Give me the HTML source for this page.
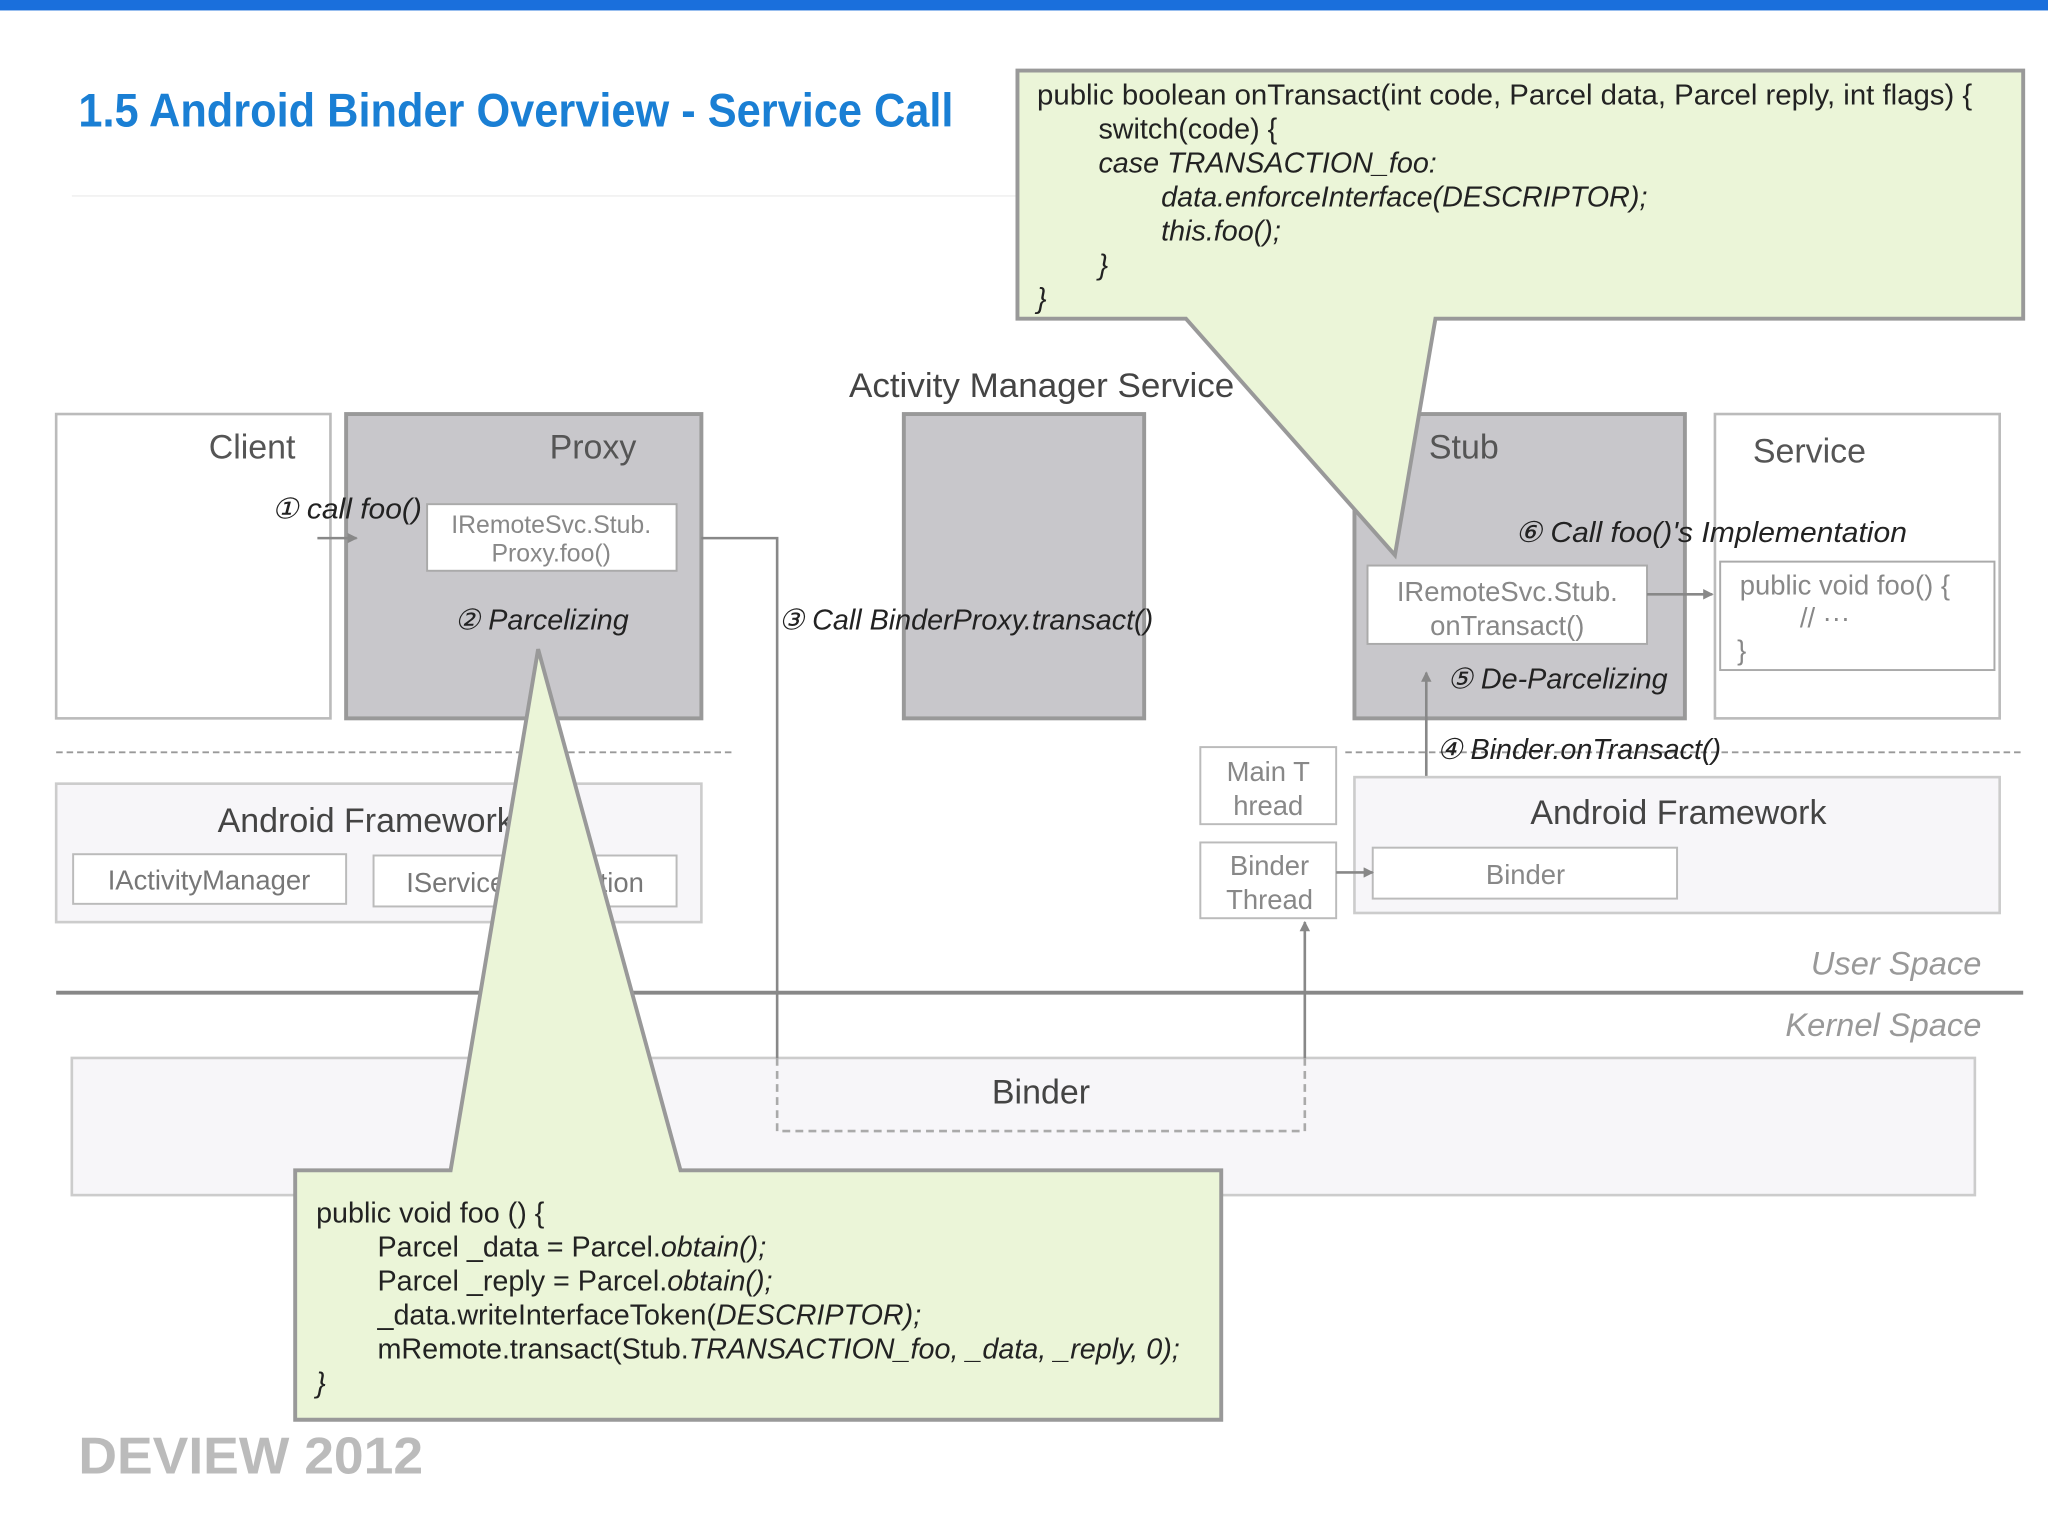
<!DOCTYPE html>
<html><head><meta charset="utf-8"><style>
html,body{margin:0;padding:0;background:#fff;width:2048px;height:1536px;overflow:hidden}
svg{display:block}
text{font-family:"Liberation Sans",sans-serif}
</style></head><body>
<svg width="2048" height="1536" viewBox="0 0 1568 1176" xmlns="http://www.w3.org/2000/svg">
<defs><marker id="a" markerWidth="8" markerHeight="8" refX="7" refY="4" orient="auto" markerUnits="userSpaceOnUse"><path d="M0,0L8,4L0,8z" fill="#888"/></marker></defs>
<rect x="0" y="0" width="1568" height="8" fill="#1a6fdc"/>
<text x="60" y="97" font-size="36" font-weight="bold" fill="#1a7fd4" textLength="670" lengthAdjust="spacingAndGlyphs">1.5  Android Binder Overview - Service Call</text>
<line x1="55" y1="150" x2="780" y2="150" stroke="#eee" stroke-width="1"/>

<!-- client -->
<rect x="43" y="317" width="210" height="233" fill="#fff" stroke="#bbb" stroke-width="2"/>
<text x="193" y="351" font-size="26" fill="#555" text-anchor="middle">Client</text>
<!-- proxy -->
<rect x="265" y="317" width="272" height="233" fill="#c8c7cb" stroke="#999" stroke-width="3"/>
<text x="454" y="351" font-size="26" fill="#555" text-anchor="middle">Proxy</text>
<rect x="327" y="386" width="191" height="51" fill="#fff" stroke="#aaa" stroke-width="1.5"/>
<text x="422" y="408" font-size="19" fill="#888" text-anchor="middle">IRemoteSvc.Stub.</text>
<text x="422" y="430" font-size="19" fill="#888" text-anchor="middle">Proxy.foo()</text>
<text x="348" y="482" font-size="22" font-style="italic" fill="#222">② Parcelizing</text>
<text x="208" y="397" font-size="22" font-style="italic" fill="#222" textLength="115" lengthAdjust="spacingAndGlyphs">① call foo()</text>
<line x1="243" y1="412" x2="273" y2="412" stroke="#888" stroke-width="2" marker-end="url(#a)"/>
<!-- AMS -->
<text x="650" y="304" font-size="26" fill="#444" textLength="295" lengthAdjust="spacingAndGlyphs">Activity Manager Service</text>
<rect x="692" y="317" width="184" height="233" fill="#c8c7cb" stroke="#999" stroke-width="3"/>
<text x="596" y="482" font-size="22" font-style="italic" fill="#222">③ Call BinderProxy.transact()</text>
<!-- stub -->
<rect x="1037" y="317" width="253" height="233" fill="#c8c7cb" stroke="#999" stroke-width="3"/>
<text x="1094" y="351" font-size="26" fill="#555">Stub</text>
<rect x="1047" y="433" width="214" height="60" fill="#fff" stroke="#aaa" stroke-width="1.5"/>
<text x="1154" y="460" font-size="21" fill="#888" text-anchor="middle">IRemoteSvc.Stub.</text>
<text x="1154" y="486" font-size="21" fill="#888" text-anchor="middle">onTransact()</text>
<!-- service -->
<rect x="1313" y="317" width="218" height="233" fill="#fff" stroke="#bbb" stroke-width="2"/>
<text x="1342" y="354" font-size="26" fill="#555">Service</text>
<rect x="1317" y="430" width="210" height="83" fill="#fff" stroke="#aaa" stroke-width="1.5"/>
<text x="1332" y="455" font-size="21" fill="#888">public void foo() {</text>
<text x="1378" y="480" font-size="21" fill="#888">// ···</text>
<text x="1330" y="505" font-size="21" fill="#888">}</text>
<text x="1160" y="415" font-size="22" font-style="italic" fill="#222" textLength="300" lengthAdjust="spacingAndGlyphs">⑥ Call foo()'s Implementation</text>
<line x1="1261" y1="455" x2="1311" y2="455" stroke="#888" stroke-width="2" marker-end="url(#a)"/>
<text x="1108" y="527" font-size="22" font-style="italic" fill="#222">⑤ De-Parcelizing</text>
<line x1="1092" y1="649" x2="1092" y2="515" stroke="#888" stroke-width="2" marker-end="url(#a)"/>

<line x1="43" y1="576" x2="562" y2="576" stroke="#999" stroke-width="1.5" stroke-dasharray="5,3"/>
<line x1="1030" y1="576" x2="1549" y2="576" stroke="#999" stroke-width="1.5" stroke-dasharray="5,3"/>
<text x="1100" y="581" font-size="22" font-style="italic" fill="#222">④ Binder.onTransact()</text>

<!-- left framework -->
<rect x="43" y="600" width="494" height="106" fill="#f7f6f9" stroke="#ccc" stroke-width="2"/>
<text x="280" y="637" font-size="26" fill="#444" text-anchor="middle">Android Framework</text>
<rect x="56" y="654" width="209" height="38" fill="#fff" stroke="#bbb" stroke-width="1.5"/>
<text x="160" y="681" font-size="21" fill="#777" text-anchor="middle">IActivityManager</text>
<rect x="286" y="655" width="232" height="39" fill="#fff" stroke="#bbb" stroke-width="1.5"/>
<text x="402" y="683" font-size="21" fill="#777" text-anchor="middle">IServiceConnection</text>
<!-- threads -->
<rect x="919" y="572" width="104" height="59" fill="#fff" stroke="#bbb" stroke-width="1.5"/>
<text x="971" y="598" font-size="21" fill="#888" text-anchor="middle">Main T</text>
<text x="971" y="624" font-size="21" fill="#888" text-anchor="middle">hread</text>
<rect x="919" y="645" width="104" height="58" fill="#fff" stroke="#bbb" stroke-width="1.5"/>
<text x="972" y="670" font-size="21" fill="#888" text-anchor="middle">Binder</text>
<text x="972" y="696" font-size="21" fill="#888" text-anchor="middle">Thread</text>
<!-- right framework -->
<rect x="1037" y="595" width="494" height="104" fill="#f7f6f9" stroke="#ccc" stroke-width="2"/>
<text x="1285" y="631" font-size="26" fill="#444" text-anchor="middle">Android Framework</text>
<rect x="1051" y="649" width="233" height="39" fill="#fff" stroke="#bbb" stroke-width="1.5"/>
<text x="1168" y="677" font-size="21" fill="#888" text-anchor="middle">Binder</text>
<line x1="1023" y1="668" x2="1051" y2="668" stroke="#888" stroke-width="2" marker-end="url(#a)"/>

<text x="1517" y="746" font-size="25" font-style="italic" fill="#999" text-anchor="end">User Space</text>
<line x1="43" y1="760" x2="1549" y2="760" stroke="#888" stroke-width="3"/>
<text x="1517" y="793" font-size="25" font-style="italic" fill="#999" text-anchor="end">Kernel Space</text>
<rect x="55" y="810" width="1457" height="105" fill="#f7f6f9" stroke="#ccc" stroke-width="2"/>
<text x="797" y="845" font-size="26" fill="#444" text-anchor="middle">Binder</text>

<!-- transact path -->
<polyline points="537,412 595,412 595,810" fill="none" stroke="#888" stroke-width="2"/>
<polyline points="595,810 595,866 999,866 999,810" fill="none" stroke="#aaa" stroke-width="2" stroke-dasharray="6,4"/>
<line x1="999" y1="810" x2="999" y2="706" stroke="#888" stroke-width="2" marker-end="url(#a)"/>

<!-- top callout -->
<path d="M779,54 L1549,54 L1549,244 L1099,244 L1068,425 L908,244 L779,244 Z" fill="#ebf5d8" stroke="#999" stroke-width="3"/>
<g font-size="22" fill="#222">
<text x="794" y="80" textLength="716" lengthAdjust="spacingAndGlyphs">public boolean onTransact(int code, Parcel data, Parcel reply, int flags) {</text>
<text x="841" y="106">switch(code) {</text>
<text x="841" y="132" font-style="italic">case TRANSACTION_foo:</text>
<text x="889" y="158" font-style="italic">data.enforceInterface(DESCRIPTOR);</text>
<text x="889" y="184" font-style="italic">this.foo();</text>
<text x="841" y="210" font-style="italic">}</text>
<text x="794" y="236" font-style="italic">}</text>
</g>
<!-- bottom callout -->
<path d="M226,896 L345,896 L412,497 L521,896 L935,896 L935,1087 L226,1087 Z" fill="#ebf5d8" stroke="#999" stroke-width="3"/>
<g font-size="22" fill="#222">
<text x="242" y="936">public void foo () {</text>
<text x="289" y="962">Parcel _data = Parcel.<tspan font-style="italic">obtain();</tspan></text>
<text x="289" y="988">Parcel _reply = Parcel.<tspan font-style="italic">obtain();</tspan></text>
<text x="289" y="1014">_data.writeInterfaceToken(<tspan font-style="italic">DESCRIPTOR);</tspan></text>
<text x="289" y="1040">mRemote.transact(Stub.<tspan font-style="italic">TRANSACTION_foo, _data, _reply, 0);</tspan></text>
<text x="242" y="1066" font-style="italic">}</text>
</g>
<text x="60" y="1128" font-size="40" font-weight="bold" fill="#bbb" textLength="264" lengthAdjust="spacingAndGlyphs">DEVIEW 2012</text>
</svg>
</body></html>
